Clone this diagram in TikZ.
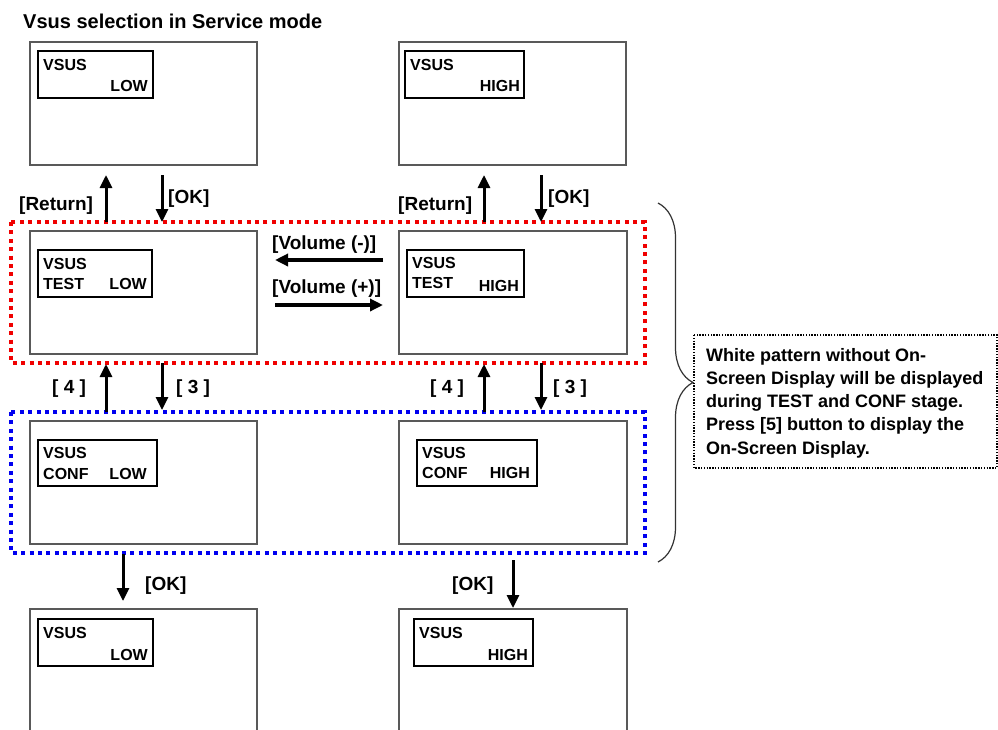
\documentclass[tikz,border=0pt]{standalone}
\usepackage{fontspec}
\setmainfont{Liberation Sans}
\usetikzlibrary{arrows.meta,decorations.pathreplacing}
\begin{document}
\begin{tikzpicture}[x=1pt,y=-1pt,
  screen/.style={draw=black!65,line width=1.8pt},
  osd/.style={draw=black,line width=2.4pt},
  stxt/.style={font=\fontsize{16}{16}\bfseries\selectfont,inner sep=0pt},
  lbl/.style={font=\fontsize{19}{19}\bfseries\selectfont,inner sep=0pt,anchor=base west},
  note/.style={font=\fontsize{18}{18}\bfseries\selectfont,inner sep=0pt,anchor=base west},
  arr/.style={line width=3pt,-{Triangle[length=13pt,width=12pt]}},
  varr/.style={line width=3.6pt,-{Triangle[length=13pt,width=12pt]}},
  reddots/.style={draw={rgb,255:red,240;green,0;blue,0},line width=4pt,dash pattern=on 4pt off 4.4pt},
  bluedots/.style={draw={rgb,255:red,0;green,0;blue,240},line width=4pt,dash pattern=on 4pt off 4.4pt},
  notebox/.style={draw=black,line width=1.4pt,dash pattern=on 1.4pt off 1.4pt}
]
\useasboundingbox (0,0) rectangle (998,729);
\fill[white] (0,0) rectangle (998,729);

% title
\node[font=\fontsize{20}{20}\bfseries\selectfont,inner sep=0pt,anchor=base west] (title) at (23,28) {Vsus selection in Service mode};

% dotted group frames
\draw[reddots] (11,222) rectangle (645,363);
\draw[bluedots] (11,412) rectangle (645,553);

% screens
\draw[screen] (30,42) rectangle (257,165);
\draw[screen] (399,42) rectangle (626,165);
\draw[screen] (30,231) rectangle (257,354);
\draw[screen] (399,231) rectangle (627,354);
\draw[screen] (30,421) rectangle (257,544);
\draw[screen] (399,421) rectangle (627,544);
\draw[screen] (30,735) -- (30,609) -- (257,609) -- (257,735);
\draw[screen] (399,735) -- (399,609) -- (627,609) -- (627,735);

% OSD boxes
\draw[osd] (38,51) rectangle (153,98);
\draw[osd] (405,51) rectangle (524,98);
\draw[osd] (38,250) rectangle (152,297);
\draw[osd] (407,250) rectangle (524,297);
\draw[osd] (38,440) rectangle (157,486);
\draw[osd] (417,440) rectangle (537,486);
\draw[osd] (38,619) rectangle (153,666);
\draw[osd] (414,619) rectangle (533,666);

% OSD texts
\node[stxt,anchor=base west] (t1a) at (43,70) {VSUS};
\node[stxt,anchor=base east] (t1b) at (148,91) {LOW};
\node[stxt,anchor=base west] (t2a) at (410,70) {VSUS};
\node[stxt,anchor=base east] (t2b) at (520,91) {HIGH};
\node[stxt,anchor=base west] (t3a) at (43,269) {VSUS};
\node[stxt,anchor=base west] (t3b) at (43,289) {TEST};
\node[stxt,anchor=base east] (t3c) at (147,289) {LOW};
\node[stxt,anchor=base west] (t4a) at (412,268) {VSUS};
\node[stxt,anchor=base west] (t4b) at (412,288) {TEST};
\node[stxt,anchor=base east] (t4c) at (519,291) {HIGH};
\node[stxt,anchor=base west] (t5a) at (43,458) {VSUS};
\node[stxt,anchor=base west] (t5b) at (43,479) {CONF};
\node[stxt,anchor=base east] (t5c) at (147,479) {LOW};
\node[stxt,anchor=base west] (t6a) at (422,458) {VSUS};
\node[stxt,anchor=base west] (t6b) at (422,478) {CONF};
\node[stxt,anchor=base east] (t6c) at (530,478) {HIGH};
\node[stxt,anchor=base west] (t7a) at (43,638) {VSUS};
\node[stxt,anchor=base east] (t7b) at (148,660) {LOW};
\node[stxt,anchor=base west] (t8a) at (419,638) {VSUS};
\node[stxt,anchor=base east] (t8b) at (528,660) {HIGH};

% arrow end points
\coordinate (a1s) at (106,222); \coordinate (a1e) at (106,175);
\coordinate (a2s) at (162,175); \coordinate (a2e) at (162,222);
\coordinate (a3s) at (484,222); \coordinate (a3e) at (484,175);
\coordinate (a4s) at (541,175); \coordinate (a4e) at (541,222);
\coordinate (a5s) at (106,412); \coordinate (a5e) at (106,364);
\coordinate (a6s) at (162,363); \coordinate (a6e) at (162,410);
\coordinate (a7s) at (484,412); \coordinate (a7e) at (484,364);
\coordinate (a8s) at (541,363); \coordinate (a8e) at (541,410);
\coordinate (v1s) at (383,260); \coordinate (v1e) at (275,260);
\coordinate (v2s) at (275,305); \coordinate (v2e) at (383,305);
\coordinate (o1s) at (123,554); \coordinate (o1e) at (123,601);
\coordinate (o2s) at (513,560); \coordinate (o2e) at (513,608);

\draw[arr] (a1s) -- (a1e);
\draw[arr] (a2s) -- (a2e);
\draw[arr] (a3s) -- (a3e);
\draw[arr] (a4s) -- (a4e);
\draw[arr] (a5s) -- (a5e);
\draw[arr] (a6s) -- (a6e);
\draw[arr] (a7s) -- (a7e);
\draw[arr] (a8s) -- (a8e);
\draw[varr] (v1s) -- (v1e);
\draw[varr] (v2s) -- (v2e);
\draw[arr] (o1s) -- (o1e);
\draw[arr] (o2s) -- (o2e);

% labels
\node[lbl] (l1) at (19,210) {[Return]};
\node[lbl] (l2) at (168,203) {[OK]};
\node[lbl] (l3) at (398,210) {[Return]};
\node[lbl] (l4) at (548,203) {[OK]};
\node[lbl] (l5) at (272,249) {[Volume (-)]};
\node[lbl] (l6) at (272,293) {[Volume (+)]};
\node[lbl] (l7) at (52,393) {[ 4 ]};
\node[lbl] (l8) at (176,393) {[ 3 ]};
\node[lbl] (l9) at (430,393) {[ 4 ]};
\node[lbl] (l10) at (553,393) {[ 3 ]};
\node[lbl] (l11) at (145,590) {[OK]};
\node[lbl] (l12) at (452,590) {[OK]};

% brace
\draw[decorate,decoration={brace,amplitude=35pt},line width=1.2pt,black!80] (658,203) -- (658,562);

% note
\draw[notebox] (694,335) rectangle (997,468);
\node[note] (n1) at (706,361) {White pattern without On-};
\node[note] (n2) at (706,384.5) {Screen Display will be displayed};
\node[note] (n3) at (706,407.5) {during TEST and CONF stage.};
\node[note] (n4) at (706,430.5) {Press [5] button to display the};
\node[note] (n5) at (706,454) {On-Screen Display.};
\end{tikzpicture}
\end{document}
